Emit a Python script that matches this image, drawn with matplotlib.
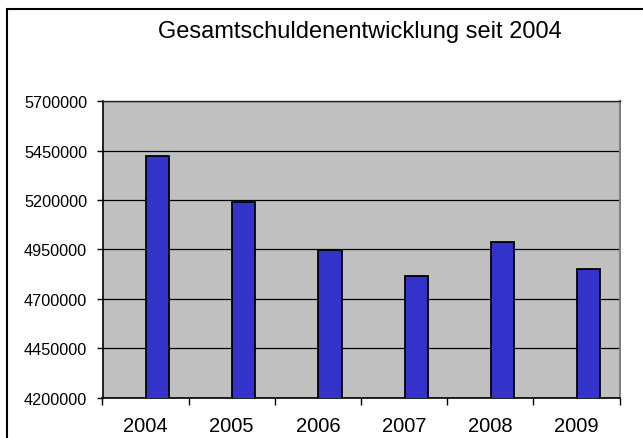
# Gesamtschuldenentwicklung seit 2004 - bar chart in Excel look
import numpy as np
import matplotlib.pyplot as plt
from matplotlib.patches import Rectangle
from matplotlib.ticker import FixedLocator

plt.rcParams['font.family'] = ['Liberation Sans', 'DejaVu Sans']

years = ["2004", "2005", "2006", "2007", "2008", "2009"]
debt = [5421000, 5190000, 4948000, 4815000, 4988000, 4852000]
y_ticks = [4200000, 4450000, 4700000, 4950000, 5200000, 5450000, 5700000]

title = "Gesamtschuldenentwicklung seit 2004"

fig = plt.figure(figsize=(6.43, 4.39), dpi=100)
ax = fig.add_axes([102.5 / 643, 40.5 / 439, 517 / 643, 296.2 / 439])

x = np.arange(len(years))
ax.bar(x + 0.14, debt, width=0.27, color="#3333CC", edgecolor="black",
       linewidth=1.3, zorder=3)

ax.set_facecolor("#C0C0C0")
ax.set_xlim(-0.5, len(years) - 0.5)
ax.set_ylim(y_ticks[0], y_ticks[-1])
ax.set_yticks(y_ticks)
ax.set_yticklabels([str(v) for v in y_ticks])
ax.grid(axis="y", color="black", linewidth=0.9, zorder=1)

ax.set_xticks(x)
ax.set_xticklabels(years, fontsize=14.5)
ax.xaxis.set_minor_locator(FixedLocator(np.arange(-0.5, len(years), 1.0)))
ax.tick_params(axis="x", which="major", length=0, pad=13)
ax.tick_params(axis="x", which="minor", length=5, width=1, direction="out")
ax.tick_params(axis="y", length=4, width=1, pad=7, labelsize=11.7)

for side in ["left", "bottom"]:
    ax.spines[side].set_color("black")
    ax.spines[side].set_linewidth(1.2)
ax.spines["top"].set_color("#222222")
ax.spines["top"].set_linewidth(1.0)
ax.spines["right"].set_color("#808080")
ax.spines["right"].set_linewidth(1.5)

fig.text(360 / 643, 1 - 32 / 439, title, ha="center", va="center", fontsize=17)

# outer chart frame (only left and top edges are visible)
fig.add_artist(Rectangle((7 / 643, -0.1), 1.0, 1.1 - 10 / 439,
                         transform=fig.transFigure, fill=False,
                         edgecolor="black", linewidth=1.5))

fig.savefig("out.png", dpi=100)
